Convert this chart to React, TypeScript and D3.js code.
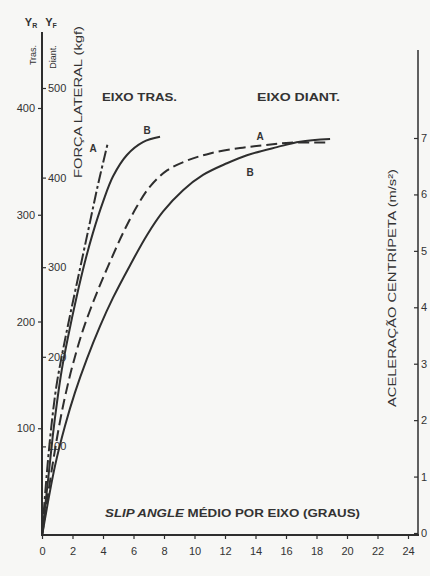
import React, { useEffect, useRef } from 'react';
import * as d3 from 'd3';

const W = 430;
const H = 576;

// slip angle (graus)
const xTicks = [0, 2, 4, 6, 8, 10, 12, 14, 16, 18, 20, 22, 24];
// Y_R, eixo traseiro (kgf)
const rearTicks = [100, 200, 300, 400];
// Y_F, eixo dianteiro (kgf)
const frontTicks = [100, 200, 300, 400, 500];
// aceleração centrípeta (m/s²)
const accelTicks = [0, 1, 2, 3, 4, 5, 6, 7];

// [slip angle, força lateral] - eixo traseiro, lidos no eixo Y_R
const rearA: [number, number][] = [
  [0, 0], [0.3, 55], [0.6, 100], [0.95, 140], [1.4, 175], [1.9, 210],
  [2.5, 250], [3.1, 290], [3.7, 330], [4.33, 368],
];
const rearB: [number, number][] = [
  [0, 0], [0.4, 52], [0.7, 92], [1.0, 126], [1.3, 155], [1.7, 185],
  [2.3, 225], [2.8, 255], [3.34, 283], [4.0, 312], [4.66, 336],
  [5.57, 356], [6.62, 368], [7.74, 373],
];
// eixo dianteiro, lidos no eixo Y_F
const frontA: [number, number][] = [
  [0, 0], [0.66, 76], [1.18, 128], [1.57, 160], [2.03, 192], [2.69, 230],
  [3.61, 272], [4.46, 306], [5.31, 338], [6.23, 368], [7.08, 390],
  [8.2, 408], [9.51, 419], [11.02, 427], [12.98, 433], [14.49, 436],
  [16.26, 439], [18.89, 439],
];
const frontB: [number, number][] = [
  [0, 0], [0.85, 78], [1.51, 123], [2.16, 160], [2.95, 198], [3.8, 234],
  [4.66, 266], [5.77, 302], [6.89, 336], [7.93, 362], [9.25, 386],
  [10.56, 403], [12.13, 416], [13.44, 425], [15.41, 434], [16.92, 440],
  [18.89, 443],
];

const INK = '#2e2e2e';
const FONT = '"Liberation Sans", Arial, sans-serif';

function Chart() {
  const ref = useRef<SVGSVGElement>(null);

  useEffect(() => {
    const svg = d3.select(ref.current);
    svg.selectAll('*').remove();

    const x = d3.scaleLinear().domain([0, 24]).range([42, 408]);
    const yR = d3.scaleLinear().domain([0, 400]).range([535, 108]);
    const yF = d3.scaleLinear().domain([0, 500]).range([536, 88]);
    const yAcc = d3.scaleLinear().domain([0, 7]).range([533, 138]);

    svg.append('rect').attr('width', W).attr('height', H).attr('fill', '#f7f7f5');

    // frame lines
    svg.append('line').attr('x1', 42).attr('x2', 42).attr('y1', 32).attr('y2', 536)
      .attr('stroke', INK).attr('stroke-width', 2);
    svg.append('line').attr('x1', 41).attr('x2', 419).attr('y1', 535).attr('y2', 535)
      .attr('stroke', INK).attr('stroke-width', 2);
    svg.append('line').attr('x1', 418).attr('x2', 418).attr('y1', 50).attr('y2', 536)
      .attr('stroke', INK).attr('stroke-width', 1.5);

    const style = (g: any) => {
      g.select('.domain').remove();
      g.selectAll('line').attr('stroke', INK).attr('stroke-width', 1.2);
      g.selectAll('text').attr('fill', '#333').attr('font-size', 11).attr('font-family', FONT);
    };

    svg.append('g').attr('transform', 'translate(42,0)')
      .call(d3.axisLeft(yR).tickValues(rearTicks).tickSize(4).tickPadding(3))
      .call(style);
    svg.append('g').attr('transform', 'translate(42,0)')
      .call(d3.axisRight(yF).tickValues(frontTicks).tickSize(4).tickPadding(2))
      .call(style);
    svg.append('g').attr('transform', 'translate(0,535)')
      .call(d3.axisBottom(x).tickValues(xTicks).tickSize(4).tickPadding(8))
      .call(style);
    svg.append('g').attr('transform', 'translate(418,0)')
      .call(d3.axisRight(yAcc).tickValues(accelTicks).tickFormat(d3.format('d'))
        .tickSizeInner(-4).tickSizeOuter(0).tickPadding(3))
      .call(style);

    // curves
    const lineR = d3.line<[number, number]>().x(d => x(d[0])).y(d => yR(d[1]))
      .curve(d3.curveCatmullRom.alpha(0.5));
    const lineF = d3.line<[number, number]>().x(d => x(d[0])).y(d => yF(d[1]))
      .curve(d3.curveCatmullRom.alpha(0.5));
    const curves = [
      { d: lineR(rearA), dash: '12 3 3 3' },
      { d: lineR(rearB), dash: null },
      { d: lineF(frontA), dash: '11 5' },
      { d: lineF(frontB), dash: null },
    ];
    curves.forEach(c => {
      svg.append('path').attr('d', c.d).attr('fill', 'none')
        .attr('stroke', INK).attr('stroke-width', 2)
        .attr('stroke-dasharray', c.dash);
    });

    const text = (t: string, px: number, py: number, size: number, opts: any = {}) => {
      const el = svg.append('text')
        .attr('x', px).attr('y', py)
        .attr('font-family', FONT).attr('font-size', size)
        .attr('fill', opts.fill || '#333')
        .attr('text-anchor', opts.anchor || 'middle')
        .attr('dominant-baseline', 'central')
        .attr('font-weight', opts.weight || 'normal')
        .text(t);
      if (opts.rotate) el.attr('transform', `rotate(${opts.rotate},${px},${py})`);
      if (opts.len) el.attr('textLength', opts.len).attr('lengthAdjust', 'spacingAndGlyphs');
      return el;
    };

    // axis heads
    const yr = text('Y', 31, 22, 11, { weight: 'bold' });
    yr.append('tspan').attr('font-size', 7).attr('dy', 3).text('R');
    const yf = text('Y', 51, 22, 11, { weight: 'bold' });
    yf.append('tspan').attr('font-size', 7).attr('dy', 3).text('F');
    text('Tras.', 33, 55, 9, { rotate: -90 });
    text('Diant.', 53, 57, 9, { rotate: -90 });

    text('FORÇA LATERAL (kgf)', 78, 102, 11, { rotate: -90, len: 152 });
    text('ACELERAÇÃO CENTRÍPETA (m/s²)', 392, 288, 11, { rotate: -90, len: 238 });

    text('EIXO TRAS.', 102, 97, 11, { anchor: 'start', weight: 'bold', len: 75 });
    text('EIXO DIANT.', 257, 97, 11, { anchor: 'start', weight: 'bold', len: 83 });

    const xl = svg.append('text').attr('x', 105).attr('y', 513)
      .attr('font-family', FONT).attr('font-size', 10.5).attr('font-weight', 'bold')
      .attr('fill', '#333').attr('dominant-baseline', 'central')
      .attr('textLength', 255).attr('lengthAdjust', 'spacingAndGlyphs');
    xl.append('tspan').attr('font-style', 'italic').text('SLIP ANGLE');
    xl.append('tspan').text(' MÉDIO POR EIXO (GRAUS)');

    // curve letters
    text('A', 93, 148, 10, { weight: 'bold' });
    text('B', 147, 130, 10, { weight: 'bold' });
    text('A', 260, 136, 10, { weight: 'bold' });
    text('B', 250, 172, 10, { weight: 'bold' });
  }, []);

  return (
    <svg ref={ref} width={W} height={H}
      style={{ position: 'absolute', left: 0, top: 0, display: 'block' }} />
  );
}

export default function App() {
  return <Chart />;
}
